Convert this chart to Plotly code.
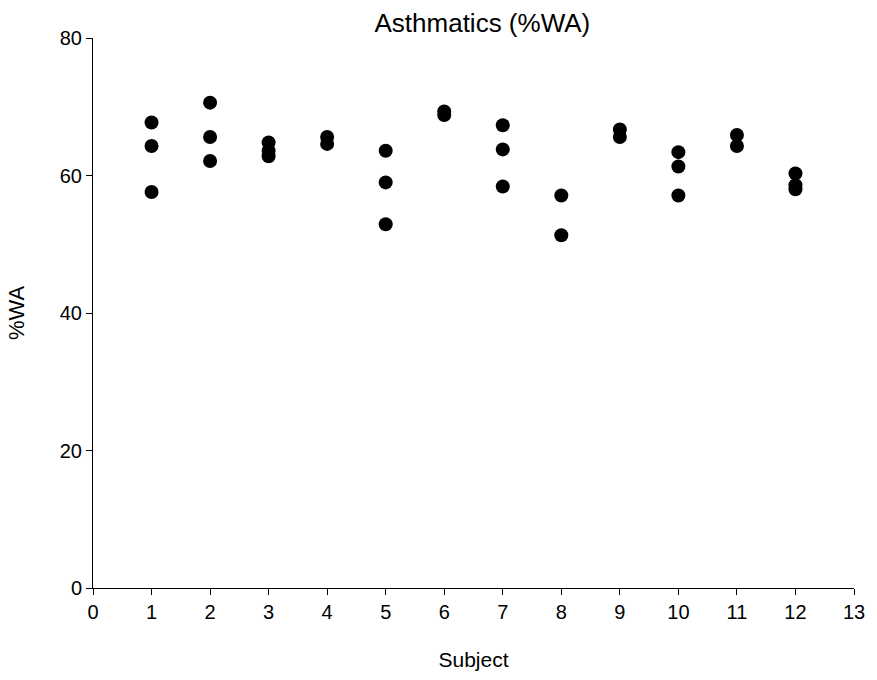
import plotly.graph_objects as go

# Repeated %WA measurements per asthmatic subject
subject = [1, 1, 1,
           2, 2, 2,
           3, 3, 3,
           4, 4,
           5, 5, 5,
           6, 6,
           7, 7, 7,
           8, 8,
           9, 9,
           10, 10, 10,
           11, 11,
           12, 12, 12]
pct_wa = [67.7, 64.3, 57.6,
          70.6, 65.6, 62.1,
          64.8, 63.6, 62.8,
          65.6, 64.6,
          63.6, 59.0, 52.9,
          69.3, 68.8,
          67.3, 63.8, 58.4,
          57.1, 51.3,
          66.7, 65.6,
          63.4, 61.3, 57.1,
          65.9, 64.3,
          60.3, 58.6, 58.0]

x_ticks = list(range(0, 14))
y_ticks = [0, 20, 40, 60, 80]

font = "Liberation Sans, Arial, sans-serif"

fig = go.Figure(go.Scatter(
    x=subject, y=pct_wa, mode="markers",
    marker=dict(color="black", size=14, line=dict(width=0)),
    showlegend=False,
))

fig.update_layout(
    width=877, height=680,
    margin=dict(l=93, r=19, t=38, b=92),
    paper_bgcolor="white", plot_bgcolor="white",
    font=dict(family=font, size=20, color="black"),
    title=dict(text="Asthmatics (%WA)", x=0.55, xanchor="center",
               y=0.966, yanchor="middle", font=dict(size=26)),
)
fig.update_xaxes(
    range=[0, 13], tickvals=x_ticks, ticks="outside", ticklen=6,
    tickcolor="black", showline=True, linecolor="black", linewidth=1,
    showgrid=False, zeroline=False, tickfont=dict(size=20),
    title=dict(text="Subject", standoff=30, font=dict(size=21)),
)
fig.update_yaxes(
    range=[0, 80], tickvals=y_ticks, ticks="outside", ticklen=6,
    tickcolor="black", showline=True, linecolor="black", linewidth=1,
    showgrid=False, zeroline=False, tickfont=dict(size=20),
    title=dict(text="%WA", standoff=29, font=dict(size=22)),
)

fig.write_html("out.html")
